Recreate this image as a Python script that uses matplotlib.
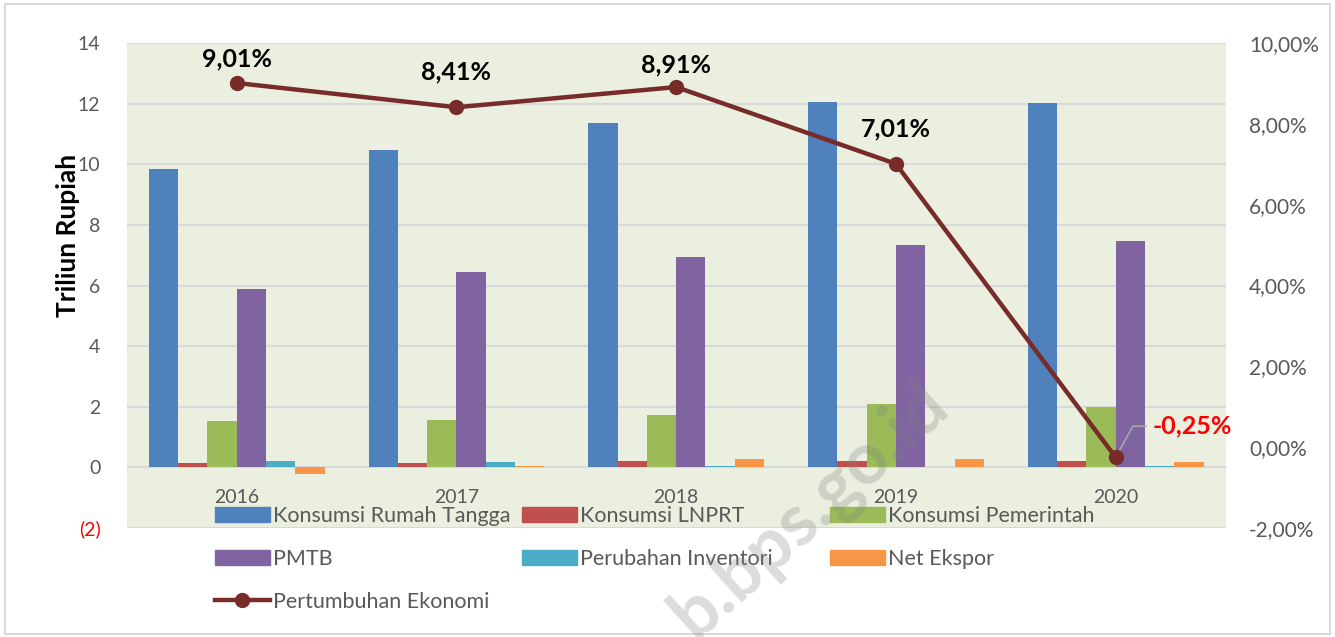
import matplotlib.pyplot as plt
import numpy as np
from matplotlib.patches import Rectangle
from matplotlib.lines import Line2D

plt.rcParams['font.family'] = ['Lato', 'DejaVu Sans']

# --------------- data ---------------
years = ['2016', '2017', '2018', '2019', '2020']
rumah_tangga = [9.85, 10.48, 11.36, 12.05, 12.02]
lnprt = [0.15, 0.16, 0.20, 0.22, 0.20]
pemerintah = [1.52, 1.55, 1.72, 2.08, 2.01]
pmtb = [5.90, 6.44, 6.93, 7.34, 7.46]
inventori = [0.20, 0.17, 0.04, 0.02, 0.04]
net_ekspor = [-0.22, 0.05, 0.27, 0.27, 0.17]
pertumbuhan = [9.01, 8.41, 8.91, 7.01, -0.25]
growth_labels = ['9,01%', '8,41%', '8,91%', '7,01%', '-0,25%']

series = [
    ('Konsumsi Rumah Tangga', rumah_tangga, '#4F81BD'),
    ('Konsumsi LNPRT', lnprt, '#C0504D'),
    ('Konsumsi Pemerintah', pemerintah, '#9BBB59'),
    ('PMTB', pmtb, '#8064A2'),
    ('Perubahan Inventori', inventori, '#4BACC6'),
    ('Net Ekspor', net_ekspor, '#F79646'),
]
line_color = '#772C2A'
grey = '#595959'

# --------------- figure ---------------
fig = plt.figure(figsize=(13.35, 6.37), dpi=100)
fig.patches.append(Rectangle((0.004, 0.004), 0.992, 0.99, transform=fig.transFigure,
                             fill=False, edgecolor='#D9D9D9', linewidth=1.5))
ax = fig.add_axes([0.095, 0.171, 0.823, 0.7615])
ax.set_facecolor('#EBEFDF')

x = np.arange(len(years))
w = 0.8 / len(series)
for i, (name, vals, col) in enumerate(series):
    ax.bar(x - 0.4 + w * (i + 0.5), vals, w, color=col, label=name, zorder=2)

ax.set_xlim(-0.5, len(years) - 0.5)
ax.set_ylim(-2, 14)
ax.set_yticks(range(-2, 15, 2))
ax.set_yticklabels(['(2)'] + [str(v) for v in range(0, 15, 2)])
ax.grid(axis='y', color='#D9D9D9', linewidth=1.5, zorder=0)
ax.set_axisbelow(True)
for s in ax.spines.values():
    s.set_visible(False)
ax.tick_params(axis='both', length=0, labelsize=14, labelcolor=grey, pad=19)
ax.get_yticklabels()[0].set_color('#FF0000')
ax.set_xticks([])
ax.set_ylabel('Triliun Rupiah', fontsize=19, fontweight='bold')
ax.yaxis.set_label_coords(-0.043, 0.604)

# year labels sit just above the (2) line like in the reference
for xi, yr in zip(x, years):
    ax.text(xi, -1.0, yr, ha='center', va='center', fontsize=14, color=grey)

# --------------- secondary axis ---------------
ax2 = ax.twinx()
ax2.set_ylim(-2, 10)
ax2.set_yticks(range(-2, 11, 2))
ax2.set_yticklabels(['%d,00%%' % v for v in range(-2, 11, 2)])
ax2.tick_params(axis='y', length=0, labelsize=15, labelcolor=grey, pad=17)
for s in ax2.spines.values():
    s.set_visible(False)
ax2.plot(x, pertumbuhan, color=line_color, linewidth=3.2, marker='o', markersize=10,
         zorder=5)

offsets = [0.6, 0.88, 0.55, 0.86]
for xi, yi, lab, dy in zip(x[:4], pertumbuhan[:4], growth_labels[:4], offsets):
    ax2.text(xi, yi + dy, lab, ha='center', va='center', fontsize=18,
             fontweight='bold', color='black')
ax2.annotate(growth_labels[4], xy=(x[4], pertumbuhan[4]), xytext=(x[4] + 0.17, 0.52),
             fontsize=18, fontweight='bold', color='#FF0000', ha='left', va='center',
             arrowprops=dict(arrowstyle='-', color='#A6A6A6', lw=1.2, relpos=(0, 0.5),
                             connectionstyle='angle,angleA=0,angleB=61,rad=0',
                             shrinkA=3, shrinkB=5))

# --------------- legend: three fixed columns, filled row by row ---------------
handles = {n: Rectangle((0, 0), 1, 1, color=c) for n, _, c in series}
handles['Pertumbuhan Ekonomi'] = Line2D([], [], color=line_color, linewidth=3.2,
                                        marker='o', markersize=10)
columns = [['Konsumsi Rumah Tangga', 'PMTB', 'Pertumbuhan Ekonomi'],
           ['Konsumsi LNPRT', 'Perubahan Inventori'],
           ['Konsumsi Pemerintah', 'Net Ekspor']]
col_x = [0.161, 0.391, 0.622]
for names, cx in zip(columns, col_x):
    fig.legend([handles[k] for k in names], names, loc='upper left',
               bbox_to_anchor=(cx, 0.205), frameon=False, fontsize=15.5,
               labelcolor=grey, handlelength=2.55, handleheight=0.7,
               handletextpad=0.15, labelspacing=1.05, borderpad=0,
               borderaxespad=0)

# faint source watermark
fig.text(0.607, 0.2, 'b.bps.go.id', rotation=42, fontsize=52, fontweight='bold',
         color='#808080', alpha=0.28, ha='center', va='center', zorder=10)

fig.savefig('out.png', dpi=100)
